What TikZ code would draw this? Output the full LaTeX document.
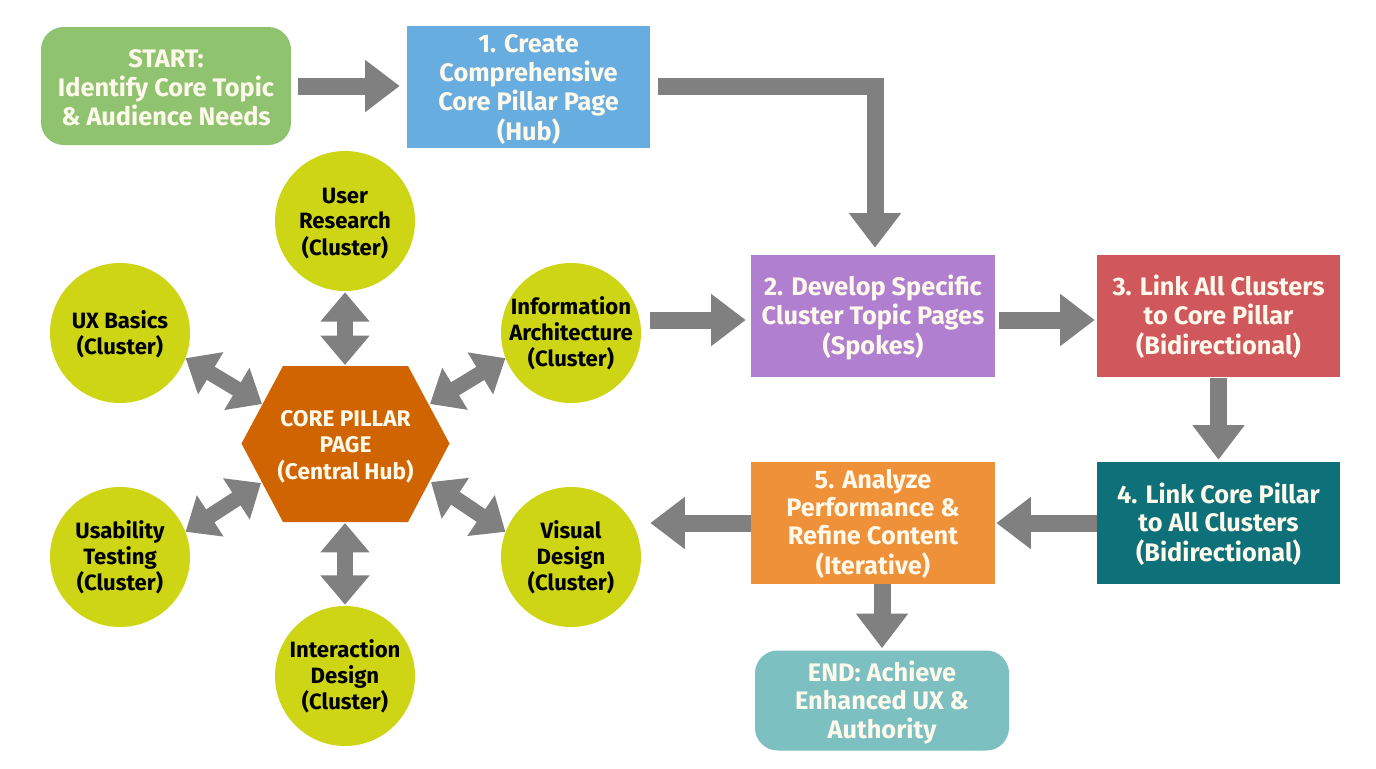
\documentclass[tikz,border=0pt]{standalone}
\usepackage{fontspec}
\setmainfont{Fira Sans}
\usetikzlibrary{arrows.meta,calc}
\definecolor{cgreen}{HTML}{8FC370}
\definecolor{cblue}{HTML}{68ADE0}
\definecolor{cpurple}{HTML}{B07FD0}
\definecolor{cred}{HTML}{D0585C}
\definecolor{cteal}{HTML}{0E7078}
\definecolor{corange}{HTML}{EE9138}
\definecolor{cend}{HTML}{7CC0C2}
\definecolor{clime}{HTML}{CDD515}
\definecolor{chub}{HTML}{D06400}
\definecolor{carrow}{HTML}{808080}
\definecolor{ctext}{HTML}{FFF9EC}
\newcommand{\mlines}[2]{\raisebox{#1}[0pt][0pt]{\begin{tabular}{@{}c@{}}#2\end{tabular}}}
\tikzset{
  x=0.75pt,y=-0.75pt,
  box/.style={inner sep=0pt,text=ctext,font=\bfseries\fontsize{19}{21}\selectfont},
  flat/.style={box,fill=#1},
  pill/.style={box,fill=#1,rounded corners=17pt},
  cluster/.style={circle,fill=clime,minimum size=105pt,inner sep=0pt,text=black,font=\bfseries\fontsize{16.6}{18.75}\selectfont},
  arr/.style={draw=carrow,line width=12.75pt,-{Triangle[width=37.5pt,length=26pt]}},
  dbl/.style={draw=carrow,line width=11.5pt,{Triangle[width=35.5pt,length=22pt]}-{Triangle[width=35.5pt,length=22pt]}},
}
\begin{document}
\begin{tikzpicture}
\useasboundingbox (0,0) rectangle (1376,768);
\fill[white] (0,0) rectangle (1376,768);
% flow boxes
\node[pill=cgreen,minimum width=187.5pt,minimum height=88.5pt] (start) at (166,86) {\mlines{-7.75pt}{START:\\Identify Core Topic\\\& Audience Needs}};
\node[flat=cblue,minimum width=182.25pt,minimum height=91.5pt] (create) at (528.5,87) {\mlines{-7pt}{1. Create\\Comprehensive\\Core Pillar Page\\(Hub)}};
\node[flat=cpurple,minimum width=183pt,minimum height=91.5pt] (develop) at (873,316) {\mlines{-6.75pt}{2. Develop Specific\\Cluster Topic Pages\\(Spokes)}};
\node[flat=cred,minimum width=182.25pt,minimum height=91.5pt] (link3) at (1218.5,316) {\mlines{-6.75pt}{3. Link All Clusters\\to Core Pillar\\(Bidirectional)}};
\node[flat=cteal,minimum width=182.25pt,minimum height=91.5pt] (link4) at (1218.5,523) {\mlines{-6.75pt}{4. Link Core Pillar\\to All Clusters\\(Bidirectional)}};
\node[flat=corange,minimum width=183pt,minimum height=91.5pt] (analyze) at (873,523) {\mlines{-6.75pt}{5. Analyze\\Performance \&\\Refine Content\\(Iterative)}};
\node[pill=cend,minimum width=190.5pt,minimum height=75pt] (finish) at (882,700.5) {\mlines{-7pt}{END: Achieve\\Enhanced UX \&\\Authority}};
% hub
\fill[chub] (241.5,443.5) -- (283,366) -- (408,366) -- (449.5,443.5) -- (408,522) -- (283,522) -- cycle;
\node[inner sep=0pt,text=ctext,font=\bfseries\fontsize{17}{19.5}\selectfont] (hub) at (345.5,444) {\mlines{-7pt}{CORE PILLAR\\PAGE\\(Central Hub)}};
\coordinate (hubN) at (345,365);
\coordinate (hubS) at (345,523);
\coordinate (hubNW) at (262,404);
\coordinate (hubNE) at (430,404);
\coordinate (hubSW) at (261,483);
\coordinate (hubSE) at (431,482);
% clusters
\node[cluster] (research) at (345,221) {\mlines{-6.9pt}{User\\Research\\(Cluster)}};
\node[cluster] (ux) at (120,333) {\mlines{-6.6pt}{UX Basics\\(Cluster)}};
\node[cluster] (ia) at (571,333) {\mlines{-6.2pt}{Information\\Architecture\\(Cluster)}};
\node[cluster] (usability) at (120,557) {\mlines{-6.2pt}{Usability\\Testing\\(Cluster)}};
\node[cluster] (visual) at (571,557) {\mlines{-6.2pt}{Visual\\Design\\(Cluster)}};
\node[cluster] (interaction) at (345,676) {\mlines{-6.2pt}{Interaction\\Design\\(Cluster)}};
% flow arrows
\draw[arr,shorten <=5.25pt,shorten >=5.25pt] (start.east) -- (create.west |- start.east);
\draw[arr] (create.east |- start.east) ++(8,0) -| ([yshift=5.25pt]develop.north -| 875,0);
\draw[arr] ([shift={(9,-13)}]ia.east) -- ([shift={(-5,4)}]develop.west);
\draw[arr] ([shift={(4,4)}]develop.east) -- ([shift={(-2,4)}]link3.west);
\draw[arr] ([yshift=-0.75pt]link3.south) -- ([yshift=1.5pt]link4.north);
\draw[arr] (link4.west) -- ([xshift=0.75pt]analyze.east);
\draw[arr] (analyze.west) -- ([xshift=6.75pt]visual.east |- analyze.west);
\draw[arr] ([xshift=6.75pt]analyze.south) -- ([yshift=1.5pt]finish.north);
% hub connectors
\draw[dbl] ([yshift=-0.75pt]research.south) -- (hubN);
\draw[dbl] (hubS) -- ([yshift=0.75pt]interaction.north);
\draw[dbl] (ux.-21) -- (hubNW);
\draw[dbl] (ia.201) -- (hubNE);
\draw[dbl] (usability.21) -- (hubSW);
\draw[dbl] (visual.159) -- (hubSE);
\end{tikzpicture}
\end{document}
